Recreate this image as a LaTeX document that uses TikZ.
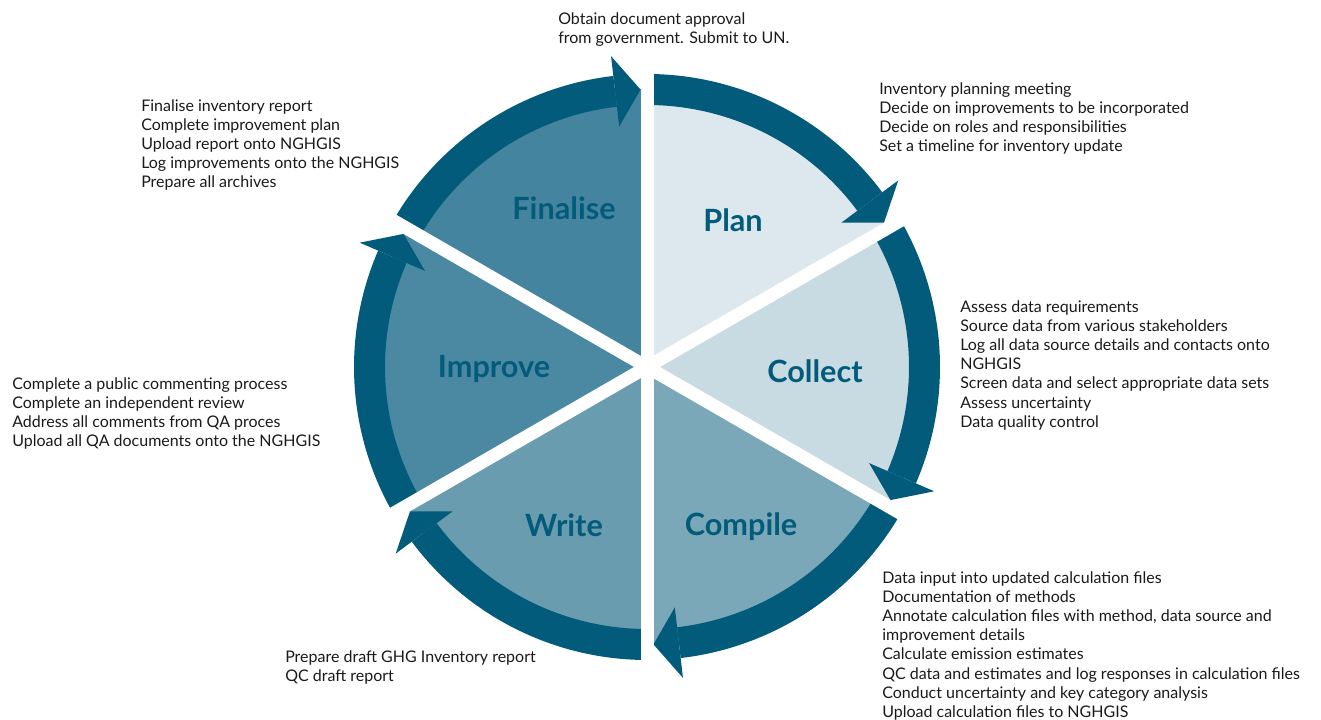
\documentclass[tikz,border=0pt]{standalone}
\usepackage{fontspec}
\setmainfont{Lato}
\definecolor{ring}{HTML}{035B7B}
\definecolor{txt}{HTML}{1A1A1A}
\definecolor{cPlan}{HTML}{DDE8EE}
\definecolor{cCollect}{HTML}{C8DBE2}
\definecolor{cCompile}{HTML}{7BA8B9}
\definecolor{cWrite}{HTML}{6A9CB0}
\definecolor{cImprove}{HTML}{4B89A3}
\definecolor{cFinalise}{HTML}{45849E}
\begin{document}
\begin{tikzpicture}[x=0.75pt,y=0.75pt,
  lbl/.style={font=\fontsize{23}{27}\selectfont\bfseries, text=ring, anchor=base, inner sep=0},
  note/.style={font=\fontsize{12}{14.4}\selectfont, text=txt, align=left, anchor=north west, inner sep=0},
  gap/.style={draw=white, line width=9.75pt}]
\useasboundingbox (0,0) rectangle (1321,720);
\begin{scope}[shift={(647,353)}]
  % pie sectors
  \fill[cPlan]     (0,0) -- (90:278)  arc[start angle=90,  end angle=30,   radius=278] -- cycle;
  \fill[cCollect]  (0,0) -- (30:278)  arc[start angle=30,  end angle=-30,  radius=278] -- cycle;
  \fill[cCompile]  (0,0) -- (-30:278) arc[start angle=-30, end angle=-90,  radius=278] -- cycle;
  \fill[cWrite]    (0,0) -- (-90:278) arc[start angle=-90, end angle=-150, radius=278] -- cycle;
  \fill[cImprove]  (0,0) -- (210:278) arc[start angle=210, end angle=150,  radius=278] -- cycle;
  \fill[cFinalise] (0,0) -- (150:278) arc[start angle=150, end angle=90,   radius=278] -- cycle;
  % ring segments with arrowheads
  \foreach \s [evaluate=\s as \b using \s-60+6.6, evaluate=\s as \t using \s-60+1.34] in {90,30,-30,-90,-150,-210}{
    \fill[ring] (\s:293) arc[start angle=\s, end angle=\b, radius=293] -- (\b:262) arc[start angle=\b, end angle=\s, radius=262] -- cycle;
    \fill[ring] (\b:313) -- (\t:277.5) -- (\b:242) -- cycle;
  }
  % white gaps
  \foreach \g in {90,30,-30,-90,-150,150}{
    \draw[gap] (0,0) -- (\g:300);
  }
\end{scope}
% stage labels
\node[lbl] (plan)     at (733,488) {Plan};
\node[lbl] (collect)  at (815,337) {Collect};
\node[lbl] (compile)  at (741,184) {Compile};
\node[lbl] (write)    at (564,183) {Write};
\node[lbl] (improve)  at (494,342) {Improve};
\node[lbl] (finalise) at (564,500) {Finalise};
% notes
\node[note] (ntop) at (558,708) {Obtain document approval\\from government. Submit to UN.};
\node[note] (nplan) at (879,638) {Inventory planning meeting\\Decide on improvements to be incorporated\\Decide on roles and responsibilities\\Set a timeline for inventory update};
\node[note] (nfinal) at (141,621) {Finalise inventory report\\Complete improvement plan\\Upload report onto NGHGIS\\Log improvements onto the NGHGIS\\Prepare all archives};
\node[note] (ncollect) at (960,420) {Assess data requirements\\Source data from various stakeholders\\Log all data source details and contacts onto\\NGHGIS\\Screen data and select appropriate data sets\\Assess uncertainty\\Data quality control};
\node[note] (nimprove) at (12,343) {Complete a public commenting process\\Complete an independent review\\Address all comments from QA proces\\Upload all QA documents onto the NGHGIS};
\node[note] (ncompile) at (882,149) {Data input into updated calculation files\\Documentation of methods\\Annotate calculation files with method, data source and\\improvement details\\Calculate emission estimates\\QC data and estimates and log responses in calculation files\\Conduct uncertainty and key category analysis\\Upload calculation files to NGHGIS};
\node[note] (nwrite) at (285,70) {Prepare draft GHG Inventory report\\QC draft report};
\end{tikzpicture}
\end{document}
